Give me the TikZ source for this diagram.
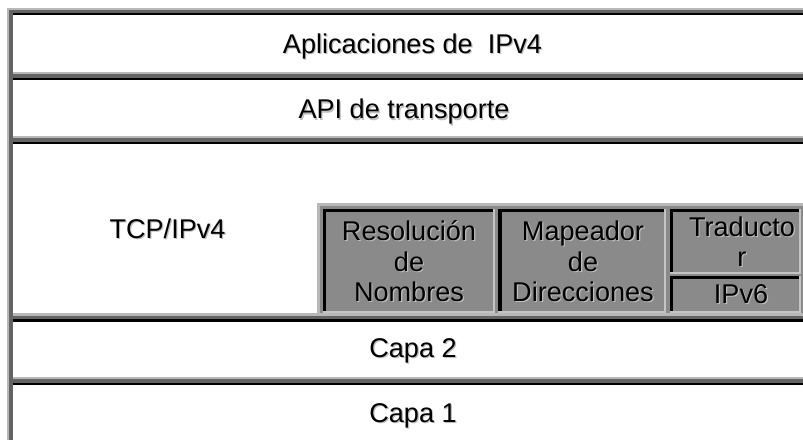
\documentclass[tikz,border=0pt]{standalone}
\usepackage{fontspec}
\setmainfont{Liberation Sans}
\definecolor{lite}{RGB}{184,184,184}
\definecolor{darkg}{RGB}{100,100,100}
\definecolor{cellg}{RGB}{138,138,138}
\definecolor{edgeg}{RGB}{196,196,196}
\definecolor{shadowg}{RGB}{190,190,190}
\newcommand\sepband[1]{%
  \fill[lite] (13,#1) rectangle (803,#1+2.3);
  \fill[darkg] (13,#1+2.3) rectangle (803,#1+6);
  \fill[black] (13,#1+6) rectangle (803,#1+8.3);}
\newcommand\cellbox[4]{% x1 y1 x2 y2
  \fill[cellg] (#1,#2) rectangle (#3,#4);
  \fill[black] (#1,#2) rectangle (#3-1.7,#2+3.3);
  \fill[black] (#1,#2) rectangle (#1+3.3,#4-2);
  \fill[edgeg] (#3-1.7,#2) rectangle (#3,#4);
  \fill[edgeg] (#1,#4-2) rectangle (#3,#4);}
% label with soft shadow: name, x, y, text
\newcommand\shlabel[4]{%
  \node[lbl, text=shadowg] (#1-sh) at (#2+1.2,#3+1.2) {#4};
  \node[lbl] (#1) at (#2,#3) {#4};}
\begin{document}
\begin{tikzpicture}[x=1pt,y=-1pt,
  lbl/.style={font=\fontsize{27.1}{30.5}\selectfont, inner sep=0pt, anchor=base}]
\useasboundingbox (0,0) rectangle (803,441);
\fill[white] (0,0) rectangle (803,441);
% outer frame
\fill[lite] (7,8) rectangle (9,440);
\fill[darkg] (9,10.5) rectangle (13,440);
\fill[lite] (7,8) rectangle (803,10.5);
\fill[darkg] (9,10.5) rectangle (803,13.3);
\fill[black] (13,13.3) rectangle (803,15.5);
% row separators
\sepband{71.7}
\sepband{136}
\sepband{313.3}
\sepband{376.7}
% grey block
\fill[cellg] (317,203) rectangle (803,313.3);
\fill[lite] (317,203) rectangle (803,205.5);
\fill[lite] (317,203) rectangle (319.5,313.3);
\cellbox{322.7}{208.5}{495}{313}
\cellbox{498.3}{208.5}{665.5}{313}
\cellbox{669.5}{208.5}{800.5}{274}
\cellbox{669.5}{276}{800.5}{313}
% labels
\shlabel{apps}{412.5}{53.5}{Aplicaciones de\ \ IPv4}
\shlabel{api}{404}{119}{API de transporte}
\shlabel{tcp}{167.5}{238}{TCP/IPv4}
\shlabel{res1}{409}{240.5}{Resolución}
\shlabel{res2}{409}{271.5}{de}
\shlabel{res3}{409}{301.7}{Nombres}
\shlabel{map1}{583}{240.5}{Mapeador}
\shlabel{map2}{583}{271.5}{de}
\shlabel{map3}{583}{301.7}{Direcciones}
\shlabel{tra1}{742}{236.7}{Traducto}
\shlabel{tra2}{742}{266}{r}
\shlabel{ipv6}{741}{303}{IPv6}
\shlabel{capa2}{413}{357}{Capa 2}
\shlabel{capa1}{413}{422}{Capa 1}
\end{tikzpicture}
\end{document}
